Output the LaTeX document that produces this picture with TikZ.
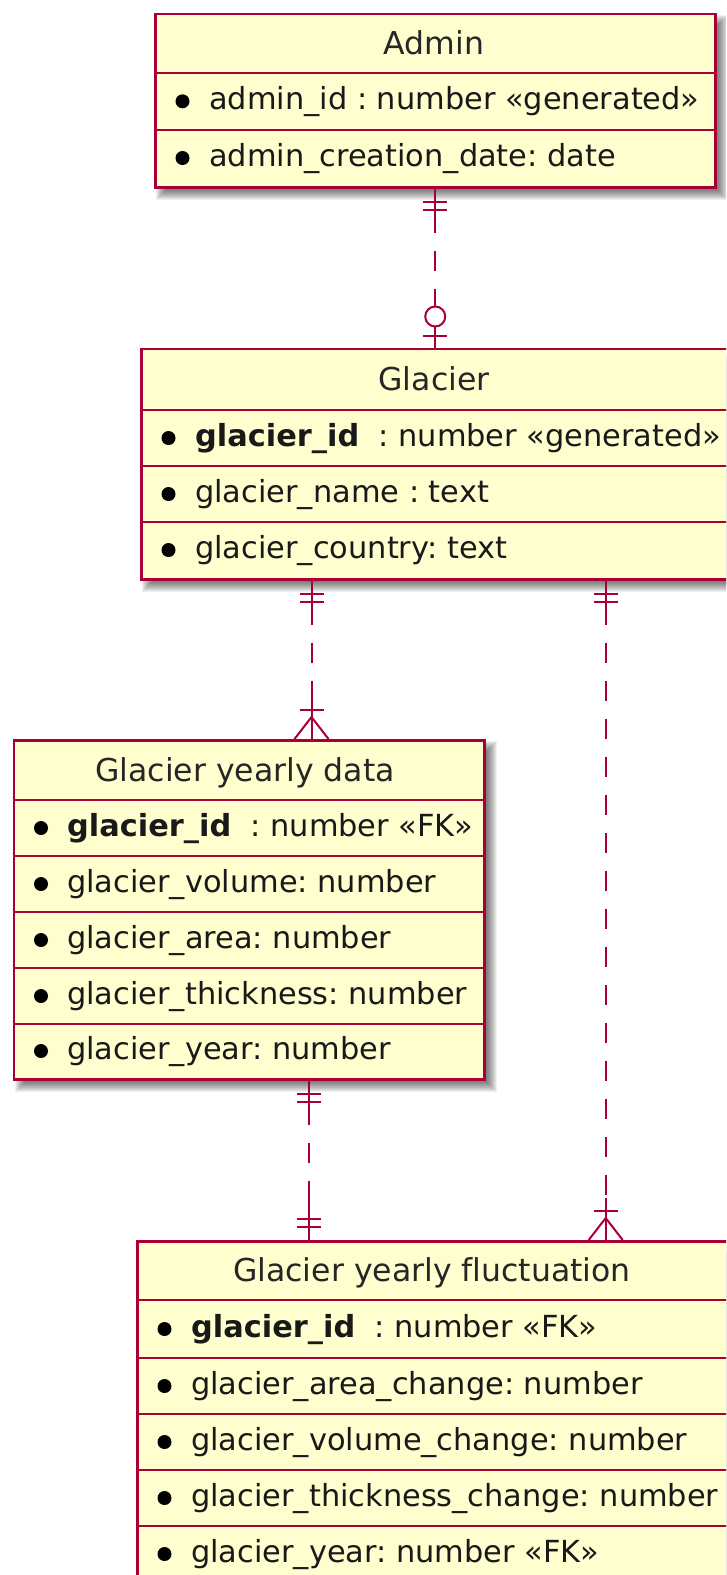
\documentclass[tikz,border=0pt]{standalone}
\usepackage{fontspec}
\setmainfont{DejaVu Sans}[Ligatures=NoCommon]
\usetikzlibrary{calc}
\definecolor{bord}{HTML}{A80036}
\definecolor{entfill}{HTML}{FEFECE}
\frenchspacing
\newcommand\eshadow[4]{%
  \foreach \s in {-6,...,6}{%
    \fill[black, opacity=0.06] (#1+8-\s,#2+8-\s) rectangle (#3+8+\s,#4+8+\s);
  }%
}
\newcommand\onemand[2]{%
  \draw[relsolid] (#1) -- ($(#1)+(0,#2*42)$);
  \draw[relsolid] ($(#1)+(-12,#2*13)$) -- ($(#1)+(12,#2*13)$);
  \draw[relsolid] ($(#1)+(-12,#2*21)$) -- ($(#1)+(12,#2*21)$);
}
\newcommand\manymand[2]{%
  \draw[relsolid] (#1) -- ($(#1)+(0,#2*42)$);
  \draw[relsolid] ($(#1)+(-12,#2*29)$) -- ($(#1)+(12,#2*29)$);
  \draw[relsolid] ($(#1)+(-17,0)$) -- ($(#1)+(0,#2*22)$) -- ($(#1)+(17,0)$);
}
\newcommand\zeroone[2]{%
  \draw[relsolid] (#1) -- ($(#1)+(0,#2*20)$);
  \draw[relsolid] ($(#1)+(-12,#2*12)$) -- ($(#1)+(12,#2*12)$);
  \draw[relsolid, fill=white] ($(#1)+(0,#2*31)$) circle[radius=10];
}
\tikzset{
  ent/.style={draw=bord, fill=entfill, line width=2.5pt, rectangle, inner sep=0pt},
  sepline/.style={draw=bord, line width=2.2pt},
  rel/.style={draw=bord, line width=2pt, dash pattern=on 20pt off 18pt, dash phase=14pt},
  relsolid/.style={draw=bord, line width=2pt},
  rowtxt/.style={anchor=base west, inner sep=0pt, text=black!90, font=\fontsize{30.4}{36}\selectfont},
  titletxt/.style={anchor=base, inner sep=0pt, text=black!85, font=\fontsize{31.5}{38}\selectfont},
  bul/.style={circle, fill=black, inner sep=0pt, minimum size=14pt},
}
\begin{document}
\begin{tikzpicture}[x=1pt,y=-1pt]
\useasboundingbox (0,0) rectangle (726,1575);
\clip (0,0) rectangle (726,1575);
\fill[white] (0,0) rectangle (726,1575);

% shadows
\eshadow{154}{12.7}{714}{186}
\eshadow{140}{347.5}{728}{578}
\eshadow{12.7}{739}{483.3}{1078}
\eshadow{136}{1240}{728}{1582}

% Admin
\node[ent, anchor=north west, minimum width=560pt, minimum height=173.3pt] (admin) at (154,12.7) {};
\draw[sepline] (154,72.7) -- (714,72.7);
\draw[sepline] (154,130) -- (714,130);
\node[titletxt] (adminT) at (434,54.2) {Admin};
\node[bul] (adminB1) at (182.5,101.3) {};
\node[rowtxt] (adminR1) at (209,109.5) {admin\_id : number «generated»};
\node[bul] (adminB2) at (182.5,158) {};
\node[rowtxt] (adminR2) at (209,166.2) {admin\_creation\_date: date};

% Glacier
\node[ent, anchor=north west, minimum width=588pt, minimum height=230.5pt] (glacier) at (140,347.5) {};
\draw[sepline] (140,410) -- (728,410);
\draw[sepline] (140,466) -- (728,466);
\draw[sepline] (140,522) -- (728,522);
\node[titletxt] (glacierT) at (434,390.2) {Glacier};
\node[bul] (glacierB1) at (168.5,438) {};
\node[rowtxt] (glacierR1) at (195,446.2) {\textbf{glacier\_id}\ \ : number «generated»};
\node[bul] (glacierB2) at (168.5,494) {};
\node[rowtxt] (glacierR2) at (195,502.2) {glacier\_name : text};
\node[bul] (glacierB3) at (168.5,550) {};
\node[rowtxt] (glacierR3) at (195,558.2) {glacier\_country: text};

% Glacier yearly data
\node[ent, anchor=north west, minimum width=470.6pt, minimum height=339pt] (data) at (12.7,739) {};
\draw[sepline] (12.7,800) -- (483.3,800);
\draw[sepline] (12.7,856) -- (483.3,856);
\draw[sepline] (12.7,912) -- (483.3,912);
\draw[sepline] (12.7,968) -- (483.3,968);
\draw[sepline] (12.7,1024) -- (483.3,1024);
\node[titletxt] (dataT) at (245,781) {Glacier yearly data};
\node[bul] (dataB1) at (41,828) {};
\node[rowtxt] (dataR1) at (67,836.2) {\textbf{glacier\_id}\ \ : number «FK»};
\node[bul] (dataB2) at (41,884) {};
\node[rowtxt] (dataR2) at (67,892.2) {glacier\_volume: number};
\node[bul] (dataB3) at (41,940) {};
\node[rowtxt] (dataR3) at (67,948.2) {glacier\_area: number};
\node[bul] (dataB4) at (41,996) {};
\node[rowtxt] (dataR4) at (67,1004.2) {glacier\_thickness: number};
\node[bul] (dataB5) at (41,1051) {};
\node[rowtxt] (dataR5) at (67,1059.2) {glacier\_year: number};

% Glacier yearly fluctuation
\node[ent, anchor=north west, minimum width=592pt, minimum height=342pt] (fluct) at (136,1240) {};
\draw[sepline] (136,1300) -- (728,1300);
\draw[sepline] (136,1358) -- (728,1358);
\draw[sepline] (136,1414) -- (728,1414);
\draw[sepline] (136,1470) -- (728,1470);
\draw[sepline] (136,1526) -- (728,1526);
\node[titletxt] (fluctT) at (432,1281.5) {Glacier yearly fluctuation};
\node[bul] (fluctB1) at (164.5,1329) {};
\node[rowtxt] (fluctR1) at (191,1337.2) {\textbf{glacier\_id}\ \ : number «FK»};
\node[bul] (fluctB2) at (164.5,1386) {};
\node[rowtxt] (fluctR2) at (191,1394.2) {glacier\_area\_change: number};
\node[bul] (fluctB3) at (164.5,1442) {};
\node[rowtxt] (fluctR3) at (191,1450.2) {glacier\_volume\_change: number};
\node[bul] (fluctB4) at (164.5,1498) {};
\node[rowtxt] (fluctR4) at (191,1506.2) {glacier\_thickness\_change: number};
\node[bul] (fluctB5) at (164.5,1554) {};
\node[rowtxt] (fluctR5) at (191,1562.2) {glacier\_year: number «FK»};

% connection points
\path (admin.south) coordinate (aS);
\path (glacier.north) coordinate (gN);
\path ($(glacier.south west)+(171.5,0)$) coordinate (gS1);
\path (data.north -| gS1) coordinate (dN);
\path ($(glacier.south west)+(465.7,0)$) coordinate (gS2);
\path (fluct.north -| gS2) coordinate (fN2);
\path ($(data.south west)+(296.6,0)$) coordinate (dS);
\path (fluct.north -| dS) coordinate (fN1);

% Admin -- Glacier
\draw[rel] (aS) -- (gN);
\onemand{aS}{1}
\zeroone{gN}{-1}
% Glacier -- data
\draw[rel] (gS1) -- (dN);
\onemand{gS1}{1}
\manymand{dN}{-1}
% Glacier -- fluctuation
\draw[rel] (gS2) -- (fN2);
\onemand{gS2}{1}
\manymand{fN2}{-1}
% data -- fluctuation
\draw[rel] (dS) -- (fN1);
\onemand{dS}{1}
\onemand{fN1}{-1}
\end{tikzpicture}
\end{document}
